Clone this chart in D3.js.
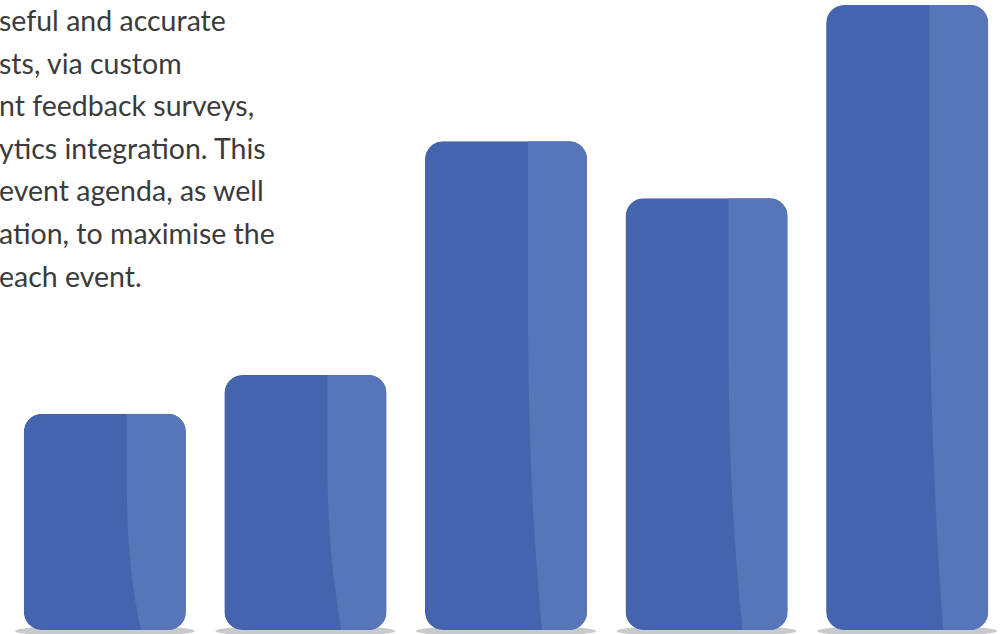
<!DOCTYPE html>
<meta charset="utf-8">
<style>
  body { margin: 0; background: #fff; overflow: hidden; }
</style>
<svg width="1002" height="634"></svg>

<script src="https://d3js.org/d3.v7.min.js"></script>
<script>
// bars, left to right
var categories = ['Event 1', 'Event 2', 'Event 3', 'Event 4', 'Event 5']
var values = [34.6, 40.8, 78.2, 69.1, 100]

// paragraph, clipped at the left edge of the picture
var textLines = [
  'seful and accurate',
  'sts, via custom',
  'nt feedback surveys,',
  'ytics integration. This',
  'event agenda, as well',
  'ation, to maximise the',
  'each event.'
]

var width = 1002
var height = 634
var barColor = '#4465ae'
var shineColor = '#5876b7'
var shadowColor = '#c9cacd'

var svg = d3.select('svg')

var x = d3.scaleBand()
  .domain(categories)
  .range([23.8, 988.2])
  .paddingInner(0.192)

var y = d3.scaleLinear()
  .domain([0, 100])
  .range([630, 5])

var radius = 18

// rounded rectangle path for a bar
function barPath(d, i) {
  var x0 = x(categories[i]), x1 = x0 + x.bandwidth()
  var y0 = y(d), y1 = y(0)
  var r = radius
  var p = d3.path()
  p.moveTo(x0 + r, y0)
  p.lineTo(x1 - r, y0)
  p.arcTo(x1, y0, x1, y0 + r, r)
  p.lineTo(x1, y1 - r)
  p.arcTo(x1, y1, x1 - r, y1, r)
  p.lineTo(x0 + r, y1)
  p.arcTo(x0, y1, x0, y1 - r, r)
  p.lineTo(x0, y0 + r)
  p.arcTo(x0, y0, x0 + r, y0, r)
  p.closePath()
  return p.toString()
}

// the lighter strip on the right: straight at the top, bending out near the bottom
function shinePath(d, i) {
  var x0 = x(categories[i]), x1 = x0 + x.bandwidth()
  var y0 = y(d), y1 = y(0)
  var sx = x0 + x.bandwidth() * 0.636
  var h = y1 - y0
  var start = y0 + h * 0.33
  var pts = d3.range(0, 1.0001, 0.05).map(function (t) {
    return [sx + 14 * Math.pow(t, 2.2), start + t * (y1 - start)]
  })
  var p = 'M' + sx + ',' + y0 + 'L' + sx + ',' + start
  pts.forEach(function (q) { p += 'L' + q[0] + ',' + q[1] })
  p += 'L' + x1 + ',' + y1 + 'L' + x1 + ',' + y0 + 'Z'
  return p
}

var defs = svg.append('defs')
defs.selectAll('clipPath')
  .data(values)
  .enter().append('clipPath')
    .attr('id', function (d, i) { return 'bar-clip-' + i })
  .append('path')
    .attr('d', barPath)

// shadows under the bars
svg.append('g')
  .attr('class', 'shadows')
  .selectAll('ellipse')
  .data(values)
  .enter().append('ellipse')
    .attr('cx', function (d, i) { return x(categories[i]) + x.bandwidth() / 2 })
    .attr('cy', y(0) + 1)
    .attr('rx', x.bandwidth() / 2 + 9)
    .attr('ry', 6)
    .attr('fill', shadowColor)

var bars = svg.append('g')
  .attr('class', 'bars')
  .selectAll('g')
  .data(values)
  .enter().append('g')
    .attr('clip-path', function (d, i) { return 'url(#bar-clip-' + i + ')' })

bars.append('path')
  .attr('d', barPath)
  .attr('fill', barColor)

bars.append('path')
  .attr('d', shinePath)
  .attr('fill', shineColor)

// text block
svg.append('g')
  .attr('class', 'texts')
  .selectAll('text')
  .data(textLines)
  .enter().append('text')
    .text(function (d) { return d })
    .attr('x', -1)
    .attr('y', function (d, i) { return 31 + i * 42.6 })
    .attr('font-family', 'Lato, "Noto Sans", sans-serif')
    .attr('font-size', 28.5)
    .attr('fill', '#3b3b3b')
</script>
